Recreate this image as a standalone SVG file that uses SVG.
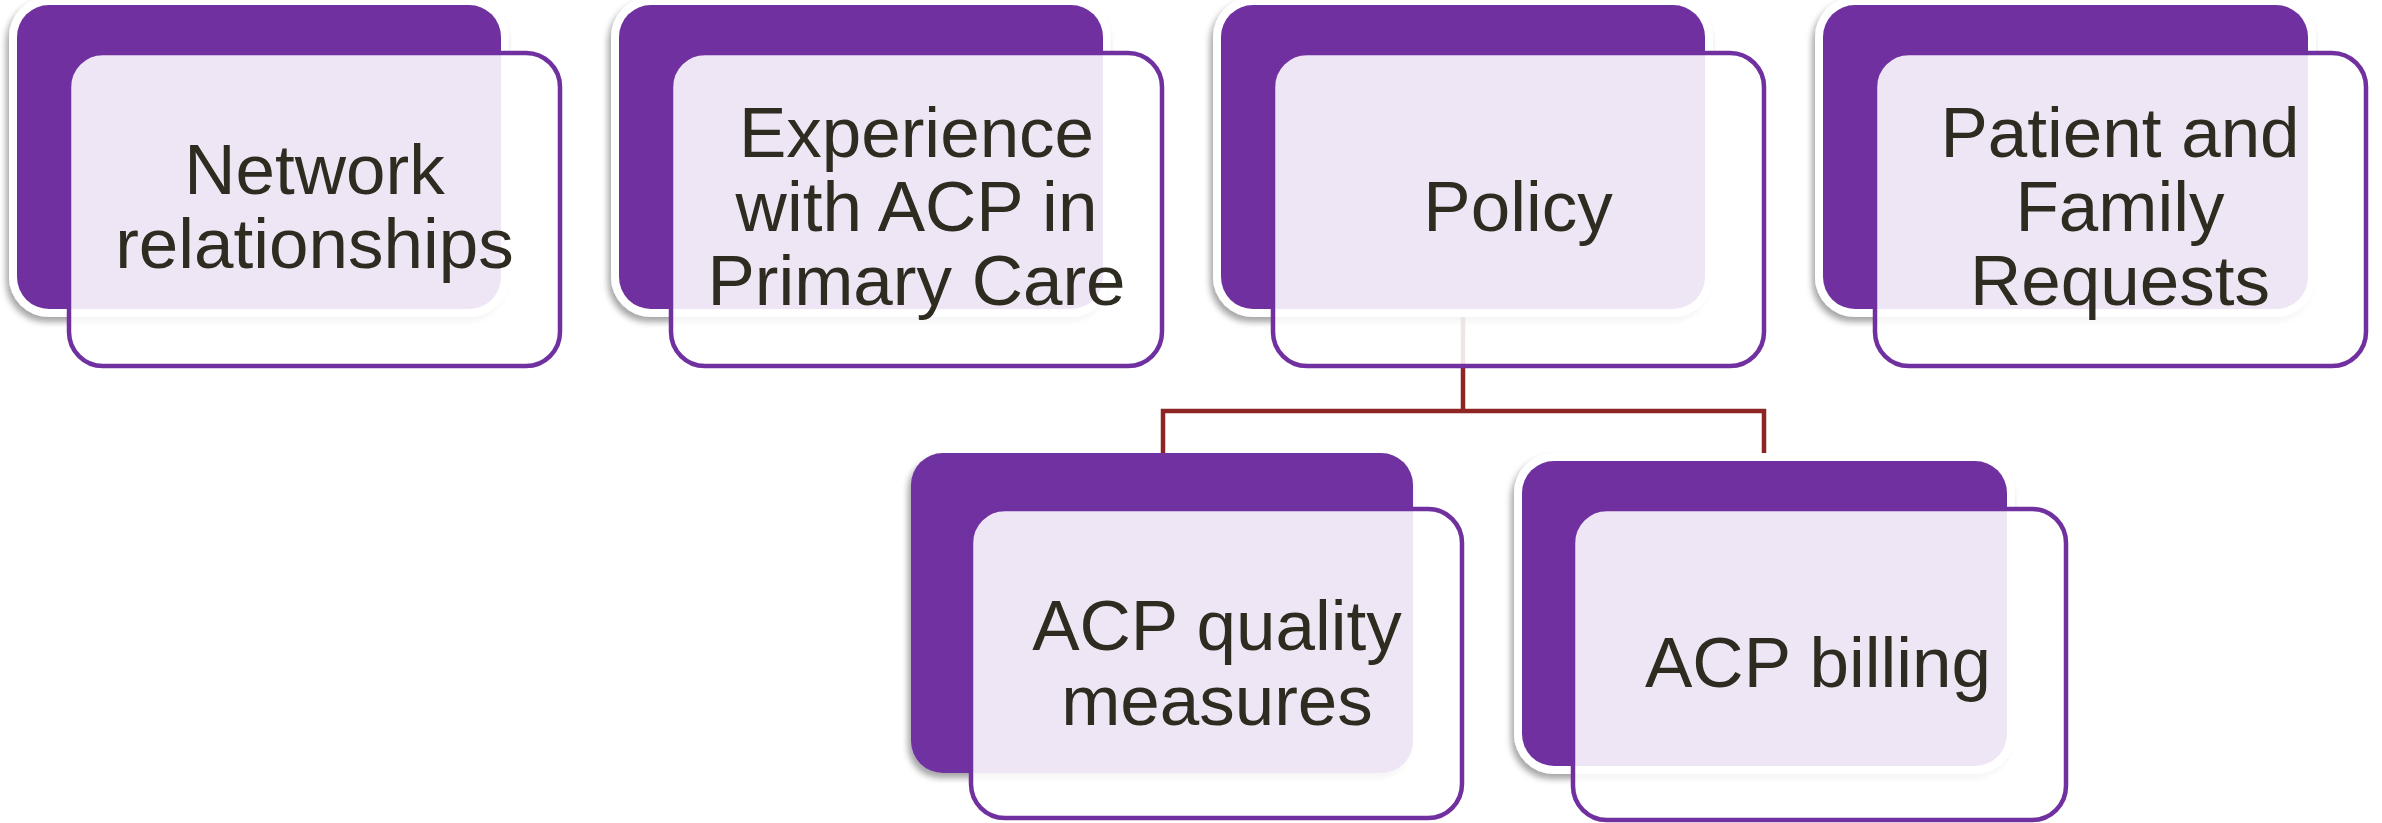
<svg xmlns="http://www.w3.org/2000/svg" width="2382" height="823" viewBox="0 0 2382 823">
<defs>
<filter id="sh" x="-10%" y="-10%" width="120%" height="125%">
<feDropShadow dx="-3" dy="5" stdDeviation="3" flood-color="#000" flood-opacity="0.35"/>
</filter>
<style>
.ring{fill:#ffffff;filter:url(#sh)}
.back{fill:#7030A0}
.backsh{fill:#7030A0;filter:url(#sh)}
.front{fill:#ffffff;fill-opacity:0.88;stroke:#7030A0;stroke-width:4.5}
.lbl{font-family:"Liberation Sans",Arial,sans-serif;font-size:71px;fill:#2E2B20;text-anchor:middle}
.conn{fill:none;stroke:#8F2424;stroke-width:4.5}
</style>
</defs>
<g id="connectors">
<path class="conn" d="M1463,317 V411 M1163,460 V411 H1764 V460"/>
</g>
<g id="node-network">
<rect class="ring" x="9" y="-3" width="500" height="320" rx="40"/>
<rect class="back" x="17" y="5" width="484" height="304" rx="32"/>
<rect class="front" x="69" y="53" width="491" height="313" rx="34"/>
<text class="lbl" x="314.5" y="194">Network<tspan x="314.5" y="268">relationships</tspan></text>
</g>
<g id="node-experience">
<rect class="ring" x="611" y="-3" width="500" height="320" rx="40"/>
<rect class="back" x="619" y="5" width="484" height="304" rx="32"/>
<rect class="front" x="671" y="53" width="491" height="313" rx="34"/>
<text class="lbl" x="916.5" y="157">Experience<tspan x="916.5" y="231">with ACP in</tspan><tspan x="916.5" y="305">Primary Care</tspan></text>
</g>
<g id="node-policy">
<rect class="ring" x="1213" y="-3" width="500" height="320" rx="40"/>
<rect class="back" x="1221" y="5" width="484" height="304" rx="32"/>
<rect class="front" x="1273" y="53" width="491" height="313" rx="34"/>
<text class="lbl" x="1518" y="231">Policy</text>
</g>
<g id="node-patient">
<rect class="ring" x="1815" y="-3" width="501" height="320" rx="40"/>
<rect class="back" x="1823" y="5" width="485" height="304" rx="32"/>
<rect class="front" x="1875" y="53" width="491" height="313" rx="34"/>
<text class="lbl" x="2120" y="157">Patient and<tspan x="2120" y="231">Family</tspan><tspan x="2120" y="305">Requests</tspan></text>
</g>
<g id="node-quality">
<rect class="backsh" x="911" y="453" width="502" height="320" rx="32"/>
<rect class="front" x="971" y="509" width="491" height="309" rx="34"/>
<text class="lbl" x="1217" y="650">ACP quality<tspan x="1217" y="725">measures</tspan></text>
</g>
<g id="node-billing">
<rect class="ring" x="1514" y="453" width="501" height="321" rx="40"/>
<rect class="back" x="1522" y="461" width="485" height="305" rx="32"/>
<rect class="front" x="1573" y="509" width="493" height="311" rx="34"/>
<text class="lbl" x="1818" y="687">ACP billing</text>
</g>
</svg>
